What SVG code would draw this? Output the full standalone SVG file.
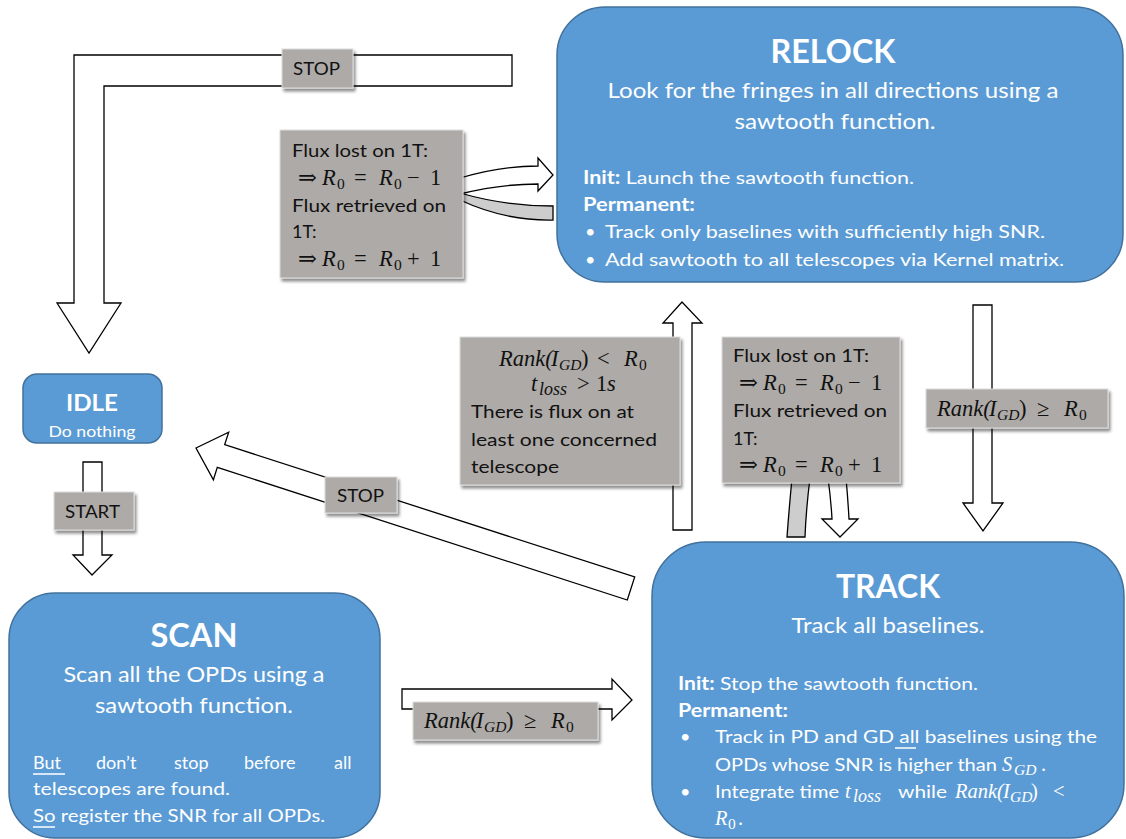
<svg xmlns="http://www.w3.org/2000/svg" width="1126" height="839" viewBox="0 0 1126 839">
<defs>
<filter id="sh" x="-10%" y="-10%" width="130%" height="140%"><feDropShadow dx="2" dy="3" stdDeviation="1.8" flood-color="#000" flood-opacity="0.45"/></filter>
<style>
.node{fill:#5B9BD5;stroke:#41719C;stroke-width:1.5}
.arr{fill:#FFFFFF;stroke:#000;stroke-width:1.3;stroke-linejoin:miter}
.band{fill:#CDCDCD;stroke:#000;stroke-width:1.3}
.lab{fill:#ADAAA7;stroke:#DCDCDC;stroke-width:1;filter:url(#sh)}
.t{font-family:Lato,"Liberation Sans",sans-serif;fill:#FFFFFF}
.ti{font-weight:bold;font-size:33px;text-anchor:middle}
.sub{font-size:22px;text-anchor:middle}
.b{font-size:18px}
.bd{font-weight:bold}
.k{font-family:Lato,"Liberation Sans",sans-serif;fill:#111;font-size:18px}
.m{font-family:"Liberation Serif","DejaVu Serif",serif;font-size:22.5px;fill:#111}
.mw{font-family:"Liberation Serif","DejaVu Serif",serif;font-size:20.5px;fill:#FFFFFF}
.i{font-style:italic}
.s{font-size:15.5px}
.ls{font-size:18px}
.ul{stroke:#FFFFFF;stroke-width:1.5}
</style>
</defs>
<rect width="1126" height="839" fill="#FFFFFF"/>

<g id="connectors">
  <!-- RELOCK -> IDLE (STOP) -->
  <path class="arr" d="M512,55 L74,55 L74,303 L57,303 L89,353 L121,303 L104,303 L104,86 L512,86 Z"/>
  <!-- curved arrows on flux box (top-left) -->
  <path class="arr" d="M460,178 Q500,166 538,166 L538,158 L553,175 L538,191 L538,184 Q500,184 460,194 Z"/>
  <path class="band" d="M460,193 Q505,206 553,206 L553,220 Q505,221 460,200 Z"/>
  <!-- TRACK -> RELOCK -->
  <path class="arr" d="M673,530 L673,323 L663,323 L682,302 L702,323 L692,323 L692,530 Z"/>
  <!-- RELOCK -> TRACK -->
  <path class="arr" d="M973,305 L992,305 L992,503 L1003,503 L983,531 L963,503 L973,503 Z"/>
  <!-- curved arrows below right flux box -->
  <path class="band" d="M792,478 L810,478 Q806,510 805,537 L787,537 Q789,510 792,478 Z"/>
  <path class="arr" d="M828,478 Q831,500 832,519 L822,519 L840,537 L858,519 L849,519 Q848,500 846,478 Z"/>
  <!-- TRACK -> IDLE (STOP) -->
  <path class="arr" d="M196,448 L228.7,432.2 L224.7,444.6 L634.7,577 L627.3,600 L217.3,467.4 L213.4,479.8 Z"/>
  <!-- IDLE -> SCAN (START) -->
  <path class="arr" d="M83,462 L102,462 L102,555 L112,555 L92,575 L73,555 L83,555 Z"/>
  <!-- SCAN -> TRACK -->
  <path class="arr" d="M402,689 L612,689 L612,679 L632,700 L612,720 L612,709 L402,709 Z"/>
</g>

<g id="labels">
  <g id="lab-stop-top">
    <rect class="lab" x="282" y="49" width="71" height="39"/>
    <text class="k" x="293" y="75" textLength="47" lengthAdjust="spacingAndGlyphs">STOP</text>
  </g>
  <g id="lab-flux-top">
    <rect class="lab" x="280" y="130" width="183" height="148"/>
    <text class="k" x="292" y="157" textLength="136" lengthAdjust="spacingAndGlyphs">Flux lost on 1T:</text>
    <text class="m" y="185"><tspan x="298">⇒</tspan><tspan class="i" x="322">R</tspan><tspan class="s" x="337" dy="4">0</tspan><tspan x="354" dy="-4">=</tspan><tspan class="i" x="379">R</tspan><tspan class="s" x="394" dy="4">0</tspan><tspan x="407" dy="-4">−</tspan><tspan x="430">1</tspan></text>
    <text class="k" x="292" y="212" textLength="154" lengthAdjust="spacingAndGlyphs">Flux retrieved on</text>
    <text class="k" x="292" y="238">1T:</text>
    <text class="m" y="266"><tspan x="298">⇒</tspan><tspan class="i" x="322">R</tspan><tspan class="s" x="337" dy="4">0</tspan><tspan x="354" dy="-4">=</tspan><tspan class="i" x="379">R</tspan><tspan class="s" x="394" dy="4">0</tspan><tspan x="407" dy="-4">+</tspan><tspan x="430">1</tspan></text>
  </g>
  <g id="lab-rank-lt">
    <rect class="lab" x="460" y="337" width="220" height="148"/>
    <text class="m" y="366"><tspan class="i" x="499">Rank(</tspan><tspan class="i" x="551">I</tspan><tspan class="i s" x="559" dy="4">GD</tspan><tspan x="581" dy="-4">)</tspan><tspan x="597">&lt;</tspan><tspan class="i" x="624">R</tspan><tspan class="s" x="639" dy="4">0</tspan></text>
    <text class="m" y="391"><tspan class="i" x="531">t</tspan><tspan class="i ls" x="539" dy="4">loss</tspan><tspan x="577" dy="-4">&gt;</tspan><tspan x="596">1</tspan><tspan class="i" x="607">s</tspan></text>
    <text class="k" x="471" y="418" textLength="163" lengthAdjust="spacingAndGlyphs">There is flux on at</text>
    <text class="k" x="471" y="446" textLength="186" lengthAdjust="spacingAndGlyphs">least one concerned</text>
    <text class="k" x="471" y="473" textLength="88" lengthAdjust="spacingAndGlyphs">telescope</text>
  </g>
  <g id="lab-flux-mid">
    <rect class="lab" x="722" y="337" width="178" height="146"/>
    <text class="k" x="733" y="362" textLength="136" lengthAdjust="spacingAndGlyphs">Flux lost on 1T:</text>
    <text class="m" y="390"><tspan x="739">⇒</tspan><tspan class="i" x="763">R</tspan><tspan class="s" x="778" dy="4">0</tspan><tspan x="795" dy="-4">=</tspan><tspan class="i" x="820">R</tspan><tspan class="s" x="835" dy="4">0</tspan><tspan x="848" dy="-4">−</tspan><tspan x="871">1</tspan></text>
    <text class="k" x="733" y="417" textLength="154" lengthAdjust="spacingAndGlyphs">Flux retrieved on</text>
    <text class="k" x="733" y="445">1T:</text>
    <text class="m" y="472"><tspan x="739">⇒</tspan><tspan class="i" x="763">R</tspan><tspan class="s" x="778" dy="4">0</tspan><tspan x="795" dy="-4">=</tspan><tspan class="i" x="820">R</tspan><tspan class="s" x="835" dy="4">0</tspan><tspan x="848" dy="-4">+</tspan><tspan x="871">1</tspan></text>
  </g>
  <g id="lab-rank-right">
    <rect class="lab" x="926" y="389" width="182" height="39"/>
    <text class="m" y="416"><tspan class="i" x="937">Rank(</tspan><tspan class="i" x="989">I</tspan><tspan class="i s" x="997" dy="4">GD</tspan><tspan x="1019" dy="-4">)</tspan><tspan x="1037">≥</tspan><tspan class="i" x="1064">R</tspan><tspan class="s" x="1079" dy="4">0</tspan></text>
  </g>
  <g id="lab-stop-diag">
    <rect class="lab" x="325" y="477" width="72" height="36"/>
    <text class="k" x="337" y="502" textLength="47" lengthAdjust="spacingAndGlyphs">STOP</text>
  </g>
  <g id="lab-start">
    <rect class="lab" x="54" y="492" width="80" height="38"/>
    <text class="k" x="65" y="518" textLength="55" lengthAdjust="spacingAndGlyphs">START</text>
  </g>
  <g id="lab-rank-bottom">
    <rect class="lab" x="413" y="702" width="185" height="38"/>
    <text class="m" y="728"><tspan class="i" x="424">Rank(</tspan><tspan class="i" x="476">I</tspan><tspan class="i s" x="484" dy="4">GD</tspan><tspan x="506" dy="-4">)</tspan><tspan x="524">≥</tspan><tspan class="i" x="551">R</tspan><tspan class="s" x="566" dy="4">0</tspan></text>
  </g>
</g>

<g id="relock">
  <rect class="node" x="557" y="7" width="566" height="275" rx="48" ry="48"/>
  <text class="t ti" x="833" y="63" textLength="125" lengthAdjust="spacingAndGlyphs">RELOCK</text>
  <text class="t sub" x="833" y="98" textLength="451" lengthAdjust="spacingAndGlyphs">Look for the fringes in all directions using a</text>
  <text class="t sub" x="835" y="129" textLength="201" lengthAdjust="spacingAndGlyphs">sawtooth function.</text>
  <text class="t b" x="583" y="184" textLength="331" lengthAdjust="spacingAndGlyphs"><tspan class="bd">Init:</tspan> Launch the sawtooth function.</text>
  <text class="t b bd" x="583" y="211" textLength="112" lengthAdjust="spacingAndGlyphs">Permanent:</text>
  <text class="t b" x="585" y="238">•</text>
  <text class="t b" x="605" y="238" textLength="440" lengthAdjust="spacingAndGlyphs">Track only baselines with sufficiently high SNR.</text>
  <text class="t b" x="585" y="266">•</text>
  <text class="t b" x="605" y="266" textLength="459" lengthAdjust="spacingAndGlyphs">Add sawtooth to all telescopes via Kernel matrix.</text>
</g>

<g id="idle">
  <rect class="node" x="23" y="374" width="139" height="69" rx="14" ry="14"/>
  <text class="t" x="92" y="411" font-size="23" font-weight="bold" text-anchor="middle" textLength="52" lengthAdjust="spacingAndGlyphs">IDLE</text>
  <text class="t" x="92" y="437" font-size="16" text-anchor="middle" textLength="87" lengthAdjust="spacingAndGlyphs">Do nothing</text>
</g>

<g id="scan">
  <rect class="node" x="9" y="593" width="371" height="245" rx="46" ry="46"/>
  <text class="t ti" x="194" y="647" textLength="87" lengthAdjust="spacingAndGlyphs">SCAN</text>
  <text class="t sub" x="194" y="682" textLength="261" lengthAdjust="spacingAndGlyphs">Scan all the OPDs using a</text>
  <text class="t sub" x="194" y="713" textLength="198" lengthAdjust="spacingAndGlyphs">sawtooth function.</text>
  <text class="t b" y="769"><tspan x="33">But</tspan><tspan x="96">don’t</tspan><tspan x="174">stop</tspan><tspan x="244">before</tspan><tspan x="334">all</tspan></text>
  <line class="ul" x1="33" y1="774" x2="65" y2="774"/>
  <text class="t b" x="33" y="795" textLength="197" lengthAdjust="spacingAndGlyphs">telescopes are found.</text>
  <text class="t b" x="33" y="822" textLength="292" lengthAdjust="spacingAndGlyphs">So register the SNR for all OPDs.</text>
  <line class="ul" x1="33" y1="827" x2="55" y2="827"/>
</g>

<g id="track">
  <rect class="node" x="652" y="542" width="472" height="296" rx="54" ry="54"/>
  <text class="t ti" x="888" y="598" textLength="104" lengthAdjust="spacingAndGlyphs">TRACK</text>
  <text class="t" x="888" y="633" font-size="21" text-anchor="middle" textLength="193" lengthAdjust="spacingAndGlyphs">Track all baselines.</text>
  <text class="t b" x="678" y="690" textLength="300" lengthAdjust="spacingAndGlyphs"><tspan class="bd">Init:</tspan> Stop the sawtooth function.</text>
  <text class="t b bd" x="678" y="717" textLength="110" lengthAdjust="spacingAndGlyphs">Permanent:</text>
  <text class="t b" x="680" y="743">•</text>
  <text class="t b" x="715" y="743" textLength="382" lengthAdjust="spacingAndGlyphs">Track in PD and GD all baselines using the</text>
  <line class="ul" x1="895" y1="748" x2="916" y2="748"/>
  <text class="t b" x="715" y="771" textLength="282" lengthAdjust="spacingAndGlyphs">OPDs whose SNR is higher than</text>
  <text class="mw" y="771"><tspan class="i" x="1002">S</tspan><tspan class="i s" x="1014" dy="4">GD</tspan><tspan x="1041" dy="-4">.</tspan></text>
  <text class="t b" x="680" y="798">•</text>
  <text class="t b" x="715" y="798" textLength="124" lengthAdjust="spacingAndGlyphs">Integrate time</text>
  <text class="mw" y="798"><tspan class="i" x="845">t</tspan><tspan class="i ls" x="853" dy="4">loss</tspan></text>
  <text class="t b" x="898" y="798" textLength="49" lengthAdjust="spacingAndGlyphs">while</text>
  <text class="mw" y="798"><tspan class="i" x="955">Rank(</tspan><tspan class="i" x="1003">I</tspan><tspan class="i s" x="1010" dy="4">GD</tspan><tspan x="1031" dy="-4">)</tspan><tspan x="1053">&lt;</tspan></text>
  <text class="mw" y="825"><tspan class="i" x="715">R</tspan><tspan class="s" x="728" dy="4">0</tspan><tspan x="738" dy="-4">.</tspan></text>
</g>
</svg>
